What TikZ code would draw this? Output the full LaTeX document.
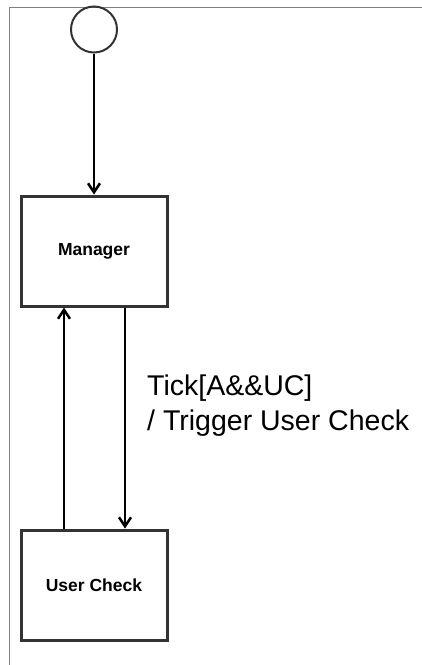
\documentclass[tikz,border=0pt]{standalone}
\usepackage{fontspec}
\setmainfont{Liberation Sans}
\usetikzlibrary{arrows.meta}
\definecolor{boxgray}{HTML}{333333}
\definecolor{framegray}{HTML}{7F7F7F}
\begin{document}
\begin{tikzpicture}[x=1pt,y=-1pt,
  state/.style={draw=boxgray,line width=3pt,fill=white,minimum width=146pt,minimum height=110pt,inner sep=0pt,font=\fontsize{17.5}{20}\selectfont\bfseries},
  initial/.style={circle,draw=boxgray,line width=2pt,minimum size=46pt,inner sep=0pt},
  trans/.style={line width=2.5pt,-{Straight Barb[length=9pt,width=12pt,line width=2.5pt]}},
  lbl/.style={anchor=base west,inner sep=0pt,font=\fontsize{28.5}{35}\selectfont}]
\useasboundingbox (0,0) rectangle (422,665);
\fill[white] (0,0) rectangle (422,665);
\draw[framegray,line width=1.5pt] (422,7.5) -- (9.5,7.5) -- (9.5,665);
\node[initial] (start) at (94,29.5) {};
\node[state] (mgr) at (94,251) {Manager};
\node[state] (uc) at (94,585) {User Check};
\draw[trans] (start) -- (mgr);
\coordinate (dtop) at (125,306);
\coordinate (utop) at (64,306);
\draw[trans] (mgr.south -| dtop) -- (uc.north -| dtop);
\draw[trans] (uc.north -| utop) -- (mgr.south -| utop);
\node[lbl] (l1) at (147,395) {Tick[A\&\&UC]};
\node[lbl] (l2) at (147,430) {/ Trigger User Check};
\end{tikzpicture}
\end{document}
